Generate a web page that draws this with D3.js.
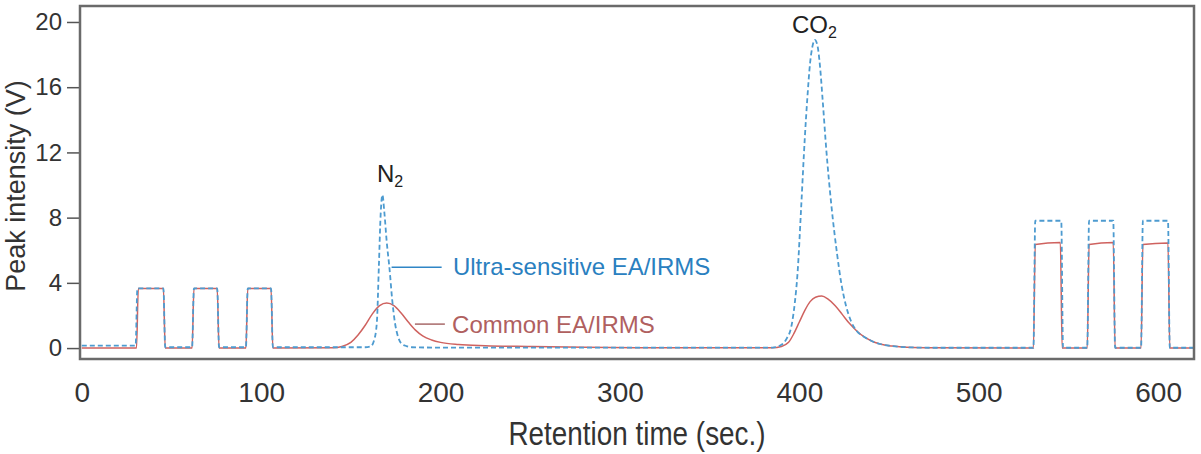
<!DOCTYPE html>
<html>
<head>
<meta charset="utf-8">
<script src="https://cdn.jsdelivr.net/npm/d3@7"></script>
<style>
  body { margin: 0; background: #fff; }
  svg { display: block; font-family: "Liberation Sans", Arial, sans-serif; }
</style>
</head>
<body>
<div id="chart"></div>
<script>
// Retention time (s) vs. peak intensity (V)
var ultraSeries = [
  [0, 0.15], [30, 0.15], [31, 3.66], [45.5, 3.66], [46.5, 0.05],
  [61.5, 0.05], [62.5, 3.66], [75.5, 3.66], [76.5, 0.05],
  [91.5, 0.05], [92.5, 3.66], [105.5, 3.66], [106.5, 0.05],
  [158, 0.05], [161, 0.1], [163, 0.5], [164.5, 1.6], [165.6, 5], [166.6, 8.2],
  [167.6, 9.4], [168.6, 8.4], [170, 6.5], [171.6, 4.8], [173, 3], [174.5, 1.6],
  [176, 0.8], [178, 0.3], [181, 0.12], [184, 0.05], [200, 0.03],
  [385, 0.03], [390, 0.2], [393, 0.6], [395.5, 1.3], [397.5, 2.8], [399, 4.6],
  [401, 8.6], [403, 12.8], [404.5, 15.4], [406, 17.5], [407.3, 18.5], [408.6, 18.9],
  [410, 18.6], [411.5, 17.3], [413, 15.2], [415, 12.2], [418, 8.6], [421, 5.8],
  [423.5, 3.9], [426, 2.6], [428.8, 1.65], [432, 1.05], [436, 0.7], [440, 0.45],
  [445, 0.25], [452, 0.12], [460, 0.05], [475, 0.02],
  [530.5, 0.02], [531.5, 7.81], [546, 7.81], [547, 0.02],
  [560.5, 0.02], [561.5, 7.81], [575, 7.81], [576, 0.02],
  [590.5, 0.02], [591.5, 7.81], [605.5, 7.81], [606.5, 0.02], [620, 0.02]
];

var commonSeries = [
  [0, 0], [30.5, 0], [31.5, 3.66], [45.5, 3.66], [46.5, 0],
  [61.5, 0], [62.5, 3.66], [75.5, 3.66], [76.5, 0],
  [91.5, 0], [92.5, 3.66], [105.5, 3.66], [106.5, 0],
  [140, 0.02], [145, 0.1], [150, 0.35], [154, 0.8], [158, 1.4], [162, 2.1],
  [166, 2.6], [170, 2.76], [174, 2.6], [178, 2.15], [182, 1.6], [186, 1.1],
  [190, 0.75], [195, 0.5], [200, 0.35], [210, 0.22], [225, 0.15], [250, 0.1],
  [280, 0.05], [320, 0.02], [385, 0.02],
  [390, 0.1], [394, 0.35], [397, 0.9], [400, 1.6], [403, 2.3], [406, 2.85],
  [409, 3.12], [412.5, 3.19], [416, 3.0], [420, 2.6], [424, 2.05], [428, 1.5],
  [432, 1.05], [436, 0.7], [440, 0.45], [445, 0.25], [452, 0.12], [460, 0.05],
  [475, 0.02],
  [530.5, 0], [531.5, 6.35], [545.5, 6.48], [546.5, 0],
  [560.5, 0], [561.5, 6.35], [575, 6.48], [576, 0],
  [590.5, 0], [591.5, 6.35], [605.5, 6.45], [606.5, 0], [620, 0]
];

var xTicks = [0, 100, 200, 300, 400, 500, 600];
var yTicks = [0, 4, 8, 12, 16, 20];

var width = 1201, height = 454;
var plot = { left: 80, right: 1194, top: 6, bottom: 359 };

var svg = d3.select("#chart").append("svg")
  .attr("width", width)
  .attr("height", height);

var x = d3.scaleLinear().domain([-1, 620]).range([plot.left, plot.right]);
var y = d3.scaleLinear().domain([-0.67, 20.98]).range([plot.bottom, plot.top]);

// y axis with outside ticks
var yAxis = svg.append("g")
  .attr("transform", "translate(" + plot.left + ",0)")
  .call(d3.axisLeft(y).tickValues(yTicks).tickSize(13).tickPadding(5));
yAxis.select(".domain").remove();
yAxis.selectAll(".tick line").attr("stroke", "#555").attr("stroke-width", 1.5);
yAxis.selectAll(".tick text")
  .attr("fill", "#333")
  .style("font-size", "24px")
  .style("font-family", "Liberation Sans, Arial, sans-serif");

// x axis labels only
var xAxis = svg.append("g")
  .attr("transform", "translate(0," + plot.bottom + ")")
  .call(d3.axisBottom(x).tickValues(xTicks).tickSize(0).tickPadding(0));
xAxis.select(".domain").remove();
xAxis.selectAll(".tick text")
  .attr("fill", "#333")
  .attr("dy", null)
  .attr("y", 43)
  .style("font-size", "28px")
  .style("font-family", "Liberation Sans, Arial, sans-serif");

// lines
var line = d3.line()
  .x(function (d) { return x(d[0]); })
  .y(function (d) { return y(d[1]); })
  .curve(d3.curveMonotoneX);

svg.append("path")
  .datum(commonSeries)
  .attr("fill", "none")
  .attr("stroke", "#cf625f")
  .attr("stroke-width", 1.5)
  .attr("d", line);

svg.append("path")
  .datum(ultraSeries)
  .attr("fill", "none")
  .attr("stroke", "#4d9bd0")
  .attr("stroke-width", 1.8)
  .attr("stroke-dasharray", "5,3")
  .attr("d", line);

// frame
svg.append("rect")
  .attr("x", plot.left)
  .attr("y", plot.top)
  .attr("width", plot.right - plot.left)
  .attr("height", plot.bottom - plot.top)
  .attr("fill", "none")
  .attr("stroke", "#6a6a6a")
  .attr("stroke-width", 2.5);

// legend callouts, placed in data coordinates
svg.append("line")
  .attr("x1", x(172.7)).attr("x2", x(200.6))
  .attr("y1", y(4.95)).attr("y2", y(4.95))
  .attr("stroke", "#2f86c6").attr("stroke-width", 1.5);
svg.append("text")
  .attr("x", x(206.9)).attr("y", y(4.95) + 8)
  .attr("fill", "#2a80c0")
  .style("font-size", "24px")
  .text("Ultra-sensitive EA/IRMS");

svg.append("line")
  .attr("x1", x(185.7)).attr("x2", x(202.4))
  .attr("y1", y(1.47)).attr("y2", y(1.47))
  .attr("stroke", "#a86a6a").attr("stroke-width", 1.5);
svg.append("text")
  .attr("x", x(206.4)).attr("y", y(1.47) + 9)
  .attr("fill", "#b0605f")
  .style("font-size", "24px")
  .text("Common EA/IRMS");

// peak labels
function peakLabel(t, v, main) {
  var txt = svg.append("text")
    .attr("x", x(t)).attr("y", y(v))
    .attr("fill", "#222")
    .style("font-size", "24px");
  txt.append("tspan").text(main);
  txt.append("tspan").attr("dy", 5).style("font-size", "16px").text("2");
}
peakLabel(164.5, 10.2, "N");
peakLabel(395.9, 19.3, "CO");

// axis titles
svg.append("text")
  .attr("transform", "translate(25," + 186 + ") rotate(-90)")
  .attr("text-anchor", "middle")
  .attr("fill", "#333")
  .style("font-size", "27px")
  .text("Peak intensity (V)");

svg.append("text")
  .attr("x", 637)
  .attr("y", 445)
  .attr("text-anchor", "middle")
  .attr("fill", "#333")
  .attr("textLength", 257)
  .attr("lengthAdjust", "spacingAndGlyphs")
  .style("font-size", "33px")
  .text("Retention time (sec.)");
</script>
</body>
</html>
